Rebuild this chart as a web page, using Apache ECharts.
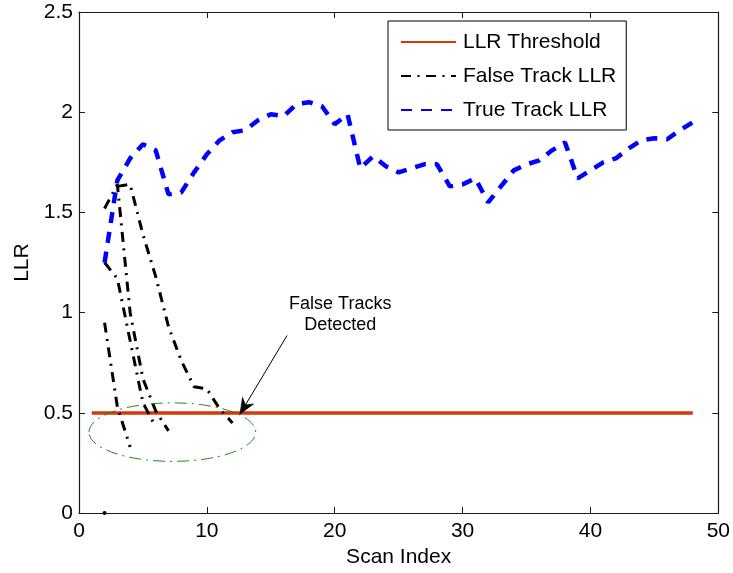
<!DOCTYPE html>
<html>
<head>
<meta charset="utf-8">
<script src="https://cdn.jsdelivr.net/npm/echarts@6/dist/echarts.min.js"></script>
<style>
  html, body { margin: 0; padding: 0; background: #fff; }
  #chart { width: 733px; height: 573px; }
</style>
</head>
<body>
<div id="chart"></div>
<script>
// Axis ticks
const xTicks = [0, 10, 20, 30, 40, 50];
const yTicks = [0, 0.5, 1, 1.5, 2, 2.5];

// Detection threshold
const thresholdScans = [1, 48];
const thresholdLLR = [0.5, 0.5];

// True track log-likelihood ratio per scan
const trueScans = [2, 3, 4, 5, 6, 7, 8, 9, 10, 11, 12, 13, 14, 15, 16, 17, 18, 19, 20, 21, 22, 23, 24, 25,
  26, 27, 28, 29, 30, 31, 32, 33, 34, 35, 36, 37, 38, 39, 40, 41, 42, 43, 44, 45, 46, 47, 48];
const trueLLR = [1.25, 1.66, 1.77, 1.84, 1.81, 1.59, 1.60, 1.70, 1.79, 1.86, 1.90, 1.91, 1.96, 1.99, 1.98, 2.04,
  2.05, 2.03, 1.94, 1.99, 1.72, 1.78, 1.73, 1.70, 1.72, 1.74, 1.74, 1.63, 1.64, 1.67, 1.55, 1.63, 1.71, 1.74,
  1.76, 1.81, 1.85, 1.67, 1.71, 1.75, 1.77, 1.82, 1.86, 1.87, 1.865, 1.91, 1.95];

// False tracks, each until it falls below the threshold
const falseScans1 = [3, 4, 5, 6, 7, 8, 9, 10, 11, 12];
const falseLLR1 = [1.63, 1.64, 1.39, 1.18, 0.93, 0.76, 0.63, 0.62, 0.52, 0.45];
const falseScans2 = [2, 3, 4, 5, 6, 7];
const falseLLR2 = [1.52, 1.64, 1.00, 0.67, 0.51, 0.41];
const falseScans3 = [2, 3, 4, 5, 6];
const falseLLR3 = [1.25, 1.17, 0.86, 0.55, 0.43];
const falseScans4 = [2, 3, 4];
const falseLLR4 = [0.95, 0.53, 0.33];
const falseScans5 = [2];
const falseLLR5 = [0];

// Annotation anchors (data units)
const noteText = ['False Tracks', 'Detected'];
const notePos = [20.43, 0.99];
const arrowTail = [16.27, 0.886];
const arrowTip = [12.58, 0.493];
const ringCenter = [7.3, 0.404];
const ringRadii = [6.52, 0.146];

const FONT = '"Liberation Sans", Arial, Helvetica, sans-serif';
const pairs = (xs, ys) => xs.map((x, i) => [x, ys[i]]);

const falseStyle = { color: '#000', width: 3, type: [10, 6.5, 2, 6.5], cap: 'butt' };
const falseSeries = [
  [falseScans1, falseLLR1], [falseScans2, falseLLR2], [falseScans3, falseLLR3],
  [falseScans4, falseLLR4], [falseScans5, falseLLR5]
].map(([xs, ys]) => ({
  name: 'False Track LLR',
  type: 'line',
  data: pairs(xs, ys),
  // a track seen on one scan only is shown as a dot
  symbol: xs.length === 1 ? 'circle' : 'none',
  showSymbol: xs.length === 1,
  symbolSize: 4,
  itemStyle: { color: '#000' },
  lineStyle: falseStyle,
  color: '#000',
  silent: true,
  z: 3
}));

const axisCommon = {
  type: 'value',
  axisLine: { show: true, onZero: false, lineStyle: { color: '#1a1a1a', width: 1.2 } },
  axisTick: { show: true, inside: true, length: 6, lineStyle: { color: '#1a1a1a', width: 1 } },
  splitLine: { show: false }
};

const chart = echarts.init(document.getElementById('chart'), null, { renderer: 'canvas' });

chart.setOption({
  animation: false,
  backgroundColor: '#fff',
  textStyle: { fontFamily: FONT },
  grid: { left: 79, right: 14, top: 12, bottom: 57, containLabel: false },
  legend: {
    orient: 'vertical',
    left: 388,
    top: 21,
    data: ['LLR Threshold', 'False Track LLR', 'True Track LLR'],
    itemWidth: 55,
    itemHeight: 14,
    itemGap: 12,
    padding: [10, 10, 9, 12],
    borderColor: '#000',
    borderWidth: 1,
    backgroundColor: '#fff',
    selectedMode: false,
    // line samples only, no marker in the middle
    itemStyle: { opacity: 0, borderWidth: 0 },
    textStyle: { fontSize: 21, color: '#000', fontFamily: FONT, lineHeight: 22, padding: [0, 0, 0, 2] }
  },
  xAxis: [
    Object.assign({}, axisCommon, {
      position: 'bottom',
      min: xTicks[0], max: xTicks[xTicks.length - 1], interval: xTicks[1] - xTicks[0],
      axisLabel: { fontSize: 21, color: '#000', margin: 8, fontFamily: FONT },
      name: 'Scan Index', nameLocation: 'middle', nameGap: 30,
      nameTextStyle: { fontSize: 21, color: '#000', fontFamily: FONT }
    }),
    Object.assign({}, axisCommon, {
      position: 'top',
      min: xTicks[0], max: xTicks[xTicks.length - 1], interval: xTicks[1] - xTicks[0],
      axisLabel: { show: false }
    })
  ],
  yAxis: [
    Object.assign({}, axisCommon, {
      position: 'left',
      min: yTicks[0], max: yTicks[yTicks.length - 1], interval: yTicks[1] - yTicks[0],
      axisLabel: { fontSize: 21, color: '#000', margin: 6, fontFamily: FONT },
      name: 'LLR', nameLocation: 'middle', nameGap: 41,
      nameTextStyle: { fontSize: 21, color: '#000', fontFamily: FONT }
    }),
    Object.assign({}, axisCommon, {
      position: 'right',
      min: yTicks[0], max: yTicks[yTicks.length - 1], interval: yTicks[1] - yTicks[0],
      axisLabel: { show: false }
    })
  ],
  series: [
    {
      name: 'LLR Threshold',
      type: 'line',
      data: pairs(thresholdScans, thresholdLLR),
      symbol: 'none',
      showSymbol: false,
      color: '#d8370a',
      lineStyle: { color: '#d8370a', width: 3.5, type: 'solid' },
      silent: true,
      z: 2
    },
    ...falseSeries,
    {
      name: 'True Track LLR',
      type: 'line',
      data: pairs(trueScans, trueLLR),
      symbol: 'none',
      showSymbol: false,
      color: '#0000ff',
      lineStyle: { color: '#0000ff', width: 4.5, type: [11, 9], cap: 'butt' },
      silent: true,
      z: 4
    }
  ]
});

// Annotation: dashed ring around the detections, arrow and caption
function drawNotes() {
  const c = chart.convertToPixel({ gridIndex: 0 }, ringCenter);
  const r0 = chart.convertToPixel({ gridIndex: 0 }, [ringCenter[0] + ringRadii[0], ringCenter[1] + ringRadii[1]]);
  const rx = Math.abs(r0[0] - c[0]);
  const ry = Math.abs(r0[1] - c[1]);

  const tail = chart.convertToPixel({ gridIndex: 0 }, arrowTail);
  const tip = chart.convertToPixel({ gridIndex: 0 }, arrowTip);
  const dx = tip[0] - tail[0], dy = tip[1] - tail[1];
  const len = Math.hypot(dx, dy);
  const ux = dx / len, uy = dy / len;
  const nx = -uy, ny = ux;
  const headLen = 16, headHalf = 6.5, notch = 11;
  const back = [tip[0] - ux * headLen, tip[1] - uy * headLen];
  const mid = [tip[0] - ux * notch, tip[1] - uy * notch];

  const note = chart.convertToPixel({ gridIndex: 0 }, notePos);

  chart.setOption({
    graphic: [
      {
        type: 'ellipse', silent: true, z: 50,
        shape: { cx: c[0], cy: c[1], rx: rx, ry: ry },
        style: { fill: 'none', stroke: '#1e8c1e', lineWidth: 1, lineDash: [12, 5, 2, 5] }
      },
      {
        type: 'line', silent: true, z: 50,
        shape: { x1: tail[0], y1: tail[1], x2: mid[0], y2: mid[1] },
        style: { stroke: '#000', lineWidth: 1 }
      },
      {
        type: 'polygon', silent: true, z: 50,
        shape: {
          points: [
            tip,
            [back[0] + nx * headHalf, back[1] + ny * headHalf],
            mid,
            [back[0] - nx * headHalf, back[1] - ny * headHalf]
          ]
        },
        style: { fill: '#000', stroke: '#000', lineWidth: 0.5 }
      },
      {
        type: 'text', silent: true, z: 50,
        x: note[0], y: note[1],
        style: {
          text: noteText.join('\n'),
          fill: '#000',
          font: '18px ' + FONT,
          align: 'center',
          verticalAlign: 'middle',
          lineHeight: 21
        }
      }
    ]
  });
}
drawNotes();
</script>
</body>
</html>
